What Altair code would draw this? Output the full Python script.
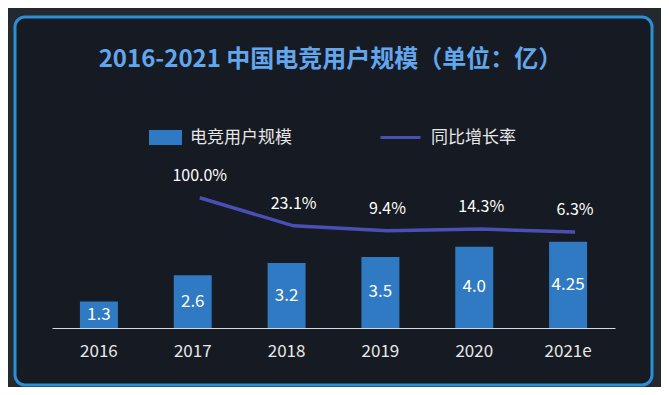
import altair as alt
import pandas as pd

years = ["2016", "2017", "2018", "2019", "2020", "2021e"]
users = [1.3, 2.6, 3.2, 3.5, 4.0, 4.25]
user_labels = ["1.3", "2.6", "3.2", "3.5", "4.0", "4.25"]
rates = [None, 100.0, 23.1, 9.4, 14.3, 6.3]
rate_labels = ["", "100.0%", "23.1%", "9.4%", "14.3%", "6.3%"]
legend_names = ["电竞用户规模", "同比增长率"]
title_text = "2016-2021 中国电竞用户规模（单位：亿）"

BAR = "#2f7ac2"
LINE = "#4a4fb5"
FONT = "Noto Sans CJK SC"

df = pd.DataFrame({
    "year": years,
    "users": users,
    "user_label": user_labels,
    "rate": rates,
    "rate_label": rate_labels,
    "bar_series": legend_names[0],
    "line_series": legend_names[1],
})

x = alt.X("year:N", sort=years,
          scale=alt.Scale(range=[37, 600], paddingInner=0, paddingOuter=0),
          axis=alt.Axis(title=None, ticks=False, labelAngle=0, labelFontSize=17,
                        labelColor="#e8e8e8", labelFont=FONT, labelPadding=15,
                        domainColor="#d8d8d8", domainWidth=1, offset=-57, grid=False))

bar_scale = alt.Scale(domain=[0, 5], range=[311, 209.5])
line_scale = alt.Scale(domain=[0, 100], range=[217.3, 180.7])

base = alt.Chart(df)

bars = base.mark_bar(size=38).encode(
    x=x,
    y=alt.Y("users:Q", scale=bar_scale, axis=None),
    fill=alt.Fill("bar_series:N", scale=alt.Scale(range=[BAR]),
                  legend=alt.Legend(orient="none", legendX=133, legendY=103, title=None,
                                    symbolType="M-1,-0.45L1,-0.45L1,0.45L-1,0.45Z",
                                    symbolSize=1089, labelFontSize=17, labelColor="#e6e6e6",
                                    labelFont=FONT, labelOffset=7, padding=0)),
)

bar_text = base.mark_text(color="white", fontSize=17, font=FONT, baseline="middle").encode(
    x=x,
    y=alt.Y("mid:Q", scale=bar_scale, axis=None),
    text="user_label:N",
).transform_calculate(mid="datum.users / 2")

line_df = base.transform_filter("datum.rate != null")

line = line_df.mark_line(strokeWidth=3.5, xOffset=7).encode(
    x=x,
    y=alt.Y("rate:Q", scale=line_scale, axis=None),
    stroke=alt.Stroke("line_series:N", scale=alt.Scale(range=[LINE]),
                      legend=alt.Legend(orient="none", legendX=364, legendY=99, title=None,
                                        symbolType="stroke", symbolSize=1600, symbolStrokeWidth=3,
                                        labelFontSize=17, labelColor="#e6e6e6", labelFont=FONT,
                                        labelOffset=9, padding=0)),
)

line_text = line_df.mark_text(color="white", fontSize=16, font=FONT, dy=-22, xOffset=7,
                              baseline="middle").encode(
    x=x,
    y=alt.Y("rate:Q", scale=line_scale, axis=None),
    text="rate_label:N",
)

chart = alt.layer(bars, bar_text, line, line_text).resolve_scale(
    y="independent"
).properties(
    width=637,
    height=368,
    autosize=alt.AutoSizeParams(type="none"),
    padding={"left": 7, "top": 9, "right": 9, "bottom": 2},
    background="#24282f",
    title=alt.TitleParams(title_text, fontSize=24, fontWeight="bold", color="#62a6ee",
                          font=FONT, anchor="middle", baseline="middle", offset=-67, dx=-3),
).configure_view(
    fill="#161a22",
    stroke="#2a8fd6",
    strokeWidth=3,
    cornerRadius=10,
)

chart.save("out.html", embed_options={"renderer": "svg", "actions": False})
